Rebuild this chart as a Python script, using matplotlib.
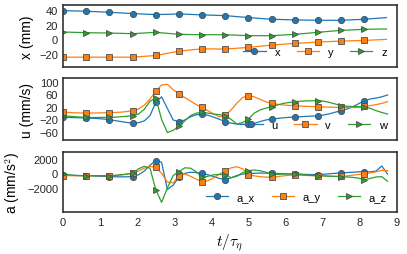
import matplotlib
matplotlib.use("Agg")
import matplotlib.pyplot as plt
import numpy as np

plt.rcParams['font.family'] = ['Liberation Sans', 'DejaVu Sans']
plt.rcParams['mathtext.fontset'] = 'cm'

# positions (mm), sampled at the marker times plus the end point
t_pos = [0, 0.625, 1.25, 1.875, 2.5, 3.125, 3.75, 4.375, 5.0, 5.625,
         6.25, 6.875, 7.5, 8.125, 8.72]
pos_x = [39.5, 38.6, 37.2, 35.4, 34.0, 34.9, 33.6, 32.6, 29.9, 27.6,
         26.7, 26.2, 26.2, 27.6, 29.9]
pos_y = [-24.4, -24.4, -24.4, -24.4, -22.1, -16.1, -12.9, -13.3, -11.0, -7.8,
         -5.5, -3.7, -2.3, -1.4, 0.0]
pos_z = [10.1, 9.2, 8.7, 7.8, 9.7, 6.9, 6.4, 6.4, 5.1, 5.1,
         6.9, 9.7, 12.4, 13.8, 14.3]

# velocity and acceleration, sampled every 0.15625 t/tau
t_fine = np.arange(57) * 0.15625
vel_u = [-13.7, -14, -14.5, -15, -15.8, -16.5, -17.5, -19, -21.2, -24,
         -27, -30, -31.8, -31, -25, -8, 34.3, 52, 15, -22,
         -27.5, -22, -12, -5, -4, -7, -13, -20, -27.6, -32,
         -35, -36, -36, -33, -27, -22, -19, -17, -15, -13.5,
         -12.6, -11.5, -10.5, -9.5, -8.4, -6, -2, 3, 7.6, 13,
         20, 30, 39.6, 45, 48, 52, 57.8]
vel_v = [3, 2, 1, 0.5, 0.2, 0.2, 0.5, 1, 1.5, 2,
         3, 5, 7.6, 13, 25, 45, 70, 90, 92, 75,
         61, 50, 38, 27, 18.3, 8, -3, -12, -7, 10,
         32, 50, 55.6, 52, 44, 36, 31, 28, 26, 24.5,
         23.6, 22.5, 21.5, 21, 20.4, 19.5, 19, 18.5, 18.3, 18,
         17.5, 18.5, 21.5, 24, 27, 31, 36.4]
vel_w = [-8.4, -10, -11.5, -12.8, -13.7, -14, -14, -13.8, -13.7, -13,
         -11.5, -10, -8.4, -3, 12, 38, 48, -20, -62, -55,
         -42, -25, -8, 0, 2.3, 0, -3, -5, -8, -20,
         -35, -30, -19, 0, 10, 16, 20.4, 26, 31, 34,
         36.4, 38, 39, 39.5, 39.6, 38, 34, 29, 23.6, 22,
         21, 20.5, 20.4, 15, 8, 2, -3]
acc_x = [-230, -260, -290, -310, -320, -350, -390, -420, -450, -470,
         -480, -470, -450, -200, 300, 1100, 1730, 1500, -2200, -1600,
         -545, 0, 150, 100, 0, -200, -450, -700, -860, -600,
         -300, -100, -50, 0, 30, 20, 0, -30, -60, -80,
         -90, -120, -150, -170, -180, -130, -60, 0, 45, 100,
         150, 200, 230, 200, 300, 1000, -90]
acc_y = [-320, -320, -320, -320, -320, -320, -320, -320, -320, -280,
         -220, -120, 0, 300, 700, 950, 820, 0, -1200, -1300,
         -320, -100, -400, -800, -1140, -1000, -600, -100, 360, 750,
         900, 600, -180, -350, -450, -520, -545, -450, -350, -270,
         -230, -260, -290, -310, -320, -350, -380, -400, -410, -350,
         -250, -150, -90, 50, 200, 400, 360]
acc_z = [-90, -200, -280, -310, -320, -320, -320, -320, -320, -280,
         -200, -100, 0, 600, 950, 700, -2230, -3950, -2000, -300,
         230, 750, 700, 200, -545, -400, -200, -150, -230, -600,
         -400, 100, 360, 450, 350, 150, -90, -150, -100, -80,
         -90, -150, -250, -300, -320, -350, -400, -430, -450, -500,
         -550, -650, -860, -700, -500, -450, -1090]

colors = ['#1f77b4', '#ff7f0e', '#2ca02c']
markers = ['o', 's', '>']
style = dict(lw=0.9, ms=4.5, mec='0.3', mew=0.6)

fig = plt.figure(figsize=(4.07, 2.55), dpi=100)
ax1 = fig.add_axes([0.155, 0.733, 0.82, 0.243])
ax2 = fig.add_axes([0.155, 0.447, 0.82, 0.243])
ax3 = fig.add_axes([0.155, 0.165, 0.82, 0.235])

for ys, lab, c, m in zip([pos_x, pos_y, pos_z], ['x', 'y', 'z'], colors, markers):
    ax1.plot(t_pos, ys, color=c, marker=m, label=lab, markevery=slice(0, 14), **style)
for ys, lab, c, m in zip([vel_u, vel_v, vel_w], ['u', 'v', 'w'], colors, markers):
    ax2.plot(t_fine, ys, color=c, marker=m, label=lab, markevery=slice(0, 53, 4), **style)
for ys, lab, c, m in zip([acc_x, acc_y, acc_z], ['a_x', 'a_y', 'a_z'], colors, markers):
    ax3.plot(t_fine, ys, color=c, marker=m, label=lab, markevery=slice(0, 53, 4), **style)

ax1.set_ylim(-38, 47)
ax1.set_yticks([-20, 0, 20, 40])
ax1.set_ylabel('x (mm)', fontsize=10)
ax2.set_ylim(-86, 112)
ax2.set_yticks([-60, -20, 20, 60, 100])
ax2.set_ylabel('u (mm/s)', fontsize=10)
ax3.set_ylim(-5250, 2900)
ax3.set_yticks([-2000, 0, 2000])
ax3.set_ylabel('a (mm/s$^2$)', fontsize=10)
ax3.set_xticks(range(10))
ax3.set_xlabel(r'$t/\tau_\eta$', fontsize=11)

for ax in (ax1, ax2, ax3):
    ax.set_xlim(0, 9)
    ax.tick_params(length=0, labelsize=8, colors='0.15')
    for s in ax.spines.values():
        s.set_color('0.2')
        s.set_linewidth(1.2)
    ax.legend(loc='lower right', ncol=3, frameon=False, fontsize=8,
              columnspacing=1.5)
for ax in (ax1, ax2):
    ax.set_xticklabels([])

fig.savefig('out.png', dpi=100)
